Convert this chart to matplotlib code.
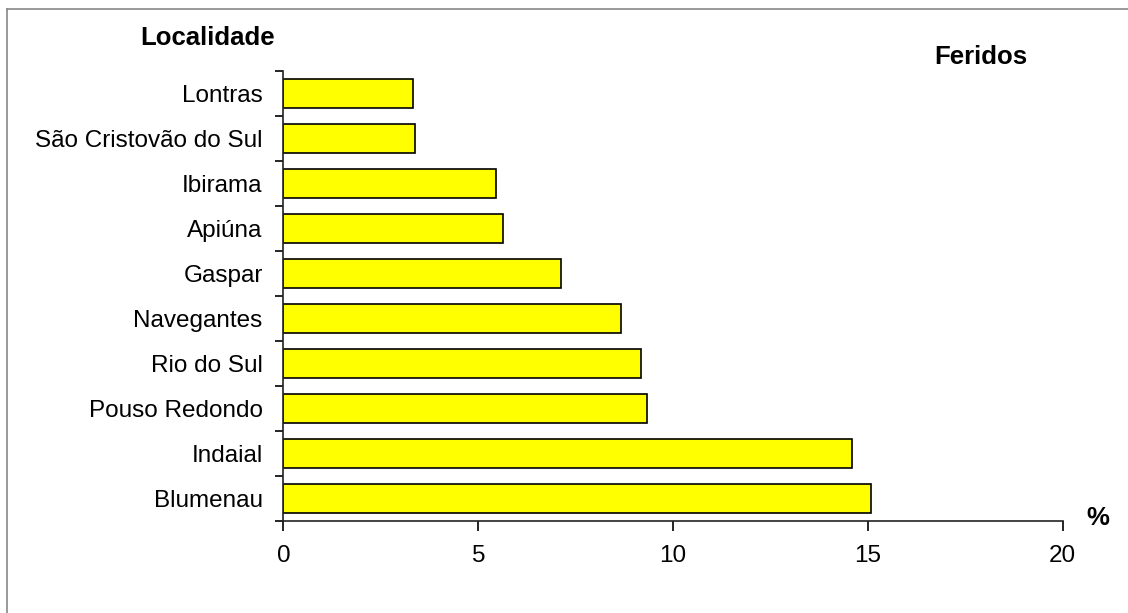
import matplotlib
matplotlib.use("Agg")
import matplotlib.pyplot as plt
from matplotlib.lines import Line2D

plt.rcParams['font.family'] = ['Liberation Sans', 'DejaVu Sans']

# Feridos por localidade (%)
localidades = ['Blumenau', 'Indaial', 'Pouso Redondo', 'Rio do Sul', 'Navegantes',
               'Gaspar', 'Apiúna', 'Ibirama', 'São Cristovão do Sul', 'Lontras']
feridos_pct = [15.07, 14.60, 9.32, 9.17, 8.67, 7.12, 5.63, 5.45, 3.38, 3.33]
x_ticks = [0, 5, 10, 15, 20]

FS = 17.5

fig = plt.figure(figsize=(11.28, 6.13), dpi=100)
ax = fig.add_axes([0.2513, 0.150, 0.6908, 0.734])

pos = range(len(localidades))
ax.barh(pos, feridos_pct, height=0.66, color='#FFFF00', edgecolor='black', linewidth=1.2)

ax.set_xlim(0, 20)
ax.set_ylim(-0.5, len(localidades) - 0.5)
ax.set_xticks(x_ticks)
ax.set_xticklabels([str(t) for t in x_ticks], fontsize=FS)
# marcas entre as categorias, rótulos no centro de cada barra
ax.set_yticks([i - 0.5 for i in range(len(localidades) + 1)])
ax.set_yticklabels([''] * (len(localidades) + 1))
ax.set_yticks(list(pos), minor=True)
ax.set_yticklabels(localidades, minor=True, fontsize=FS)
ax.tick_params(axis='y', which='minor', length=0, pad=15)
ax.tick_params(axis='y', which='major', length=6, width=1.2, direction='out')
ax.tick_params(axis='x', length=7, width=1.2, direction='out', pad=10)

for side in ('top', 'right'):
    ax.spines[side].set_visible(False)
for side in ('left', 'bottom'):
    ax.spines[side].set_linewidth(1.2)
    ax.spines[side].set_color('#222222')

fig.text(208 / 1128, 1 - 38 / 613, 'Localidade', fontsize=18.5, fontweight='bold',
         ha='center', va='center')
fig.text(981 / 1128, 1 - 57 / 613, 'Feridos', fontsize=18.5, fontweight='bold',
         ha='center', va='center')
fig.text(1098 / 1128, 1 - 518 / 613, '%', fontsize=18.5, fontweight='bold',
         ha='center', va='center')

# moldura cinza da área do gráfico
fig.add_artist(Line2D([7 / 1128, 7 / 1128], [0, 1 - 9 / 613], color='#888888', lw=1.2))
fig.add_artist(Line2D([7 / 1128, 1], [1 - 9 / 613, 1 - 9 / 613], color='#888888', lw=1.2))

fig.savefig('out.png', dpi=100)
